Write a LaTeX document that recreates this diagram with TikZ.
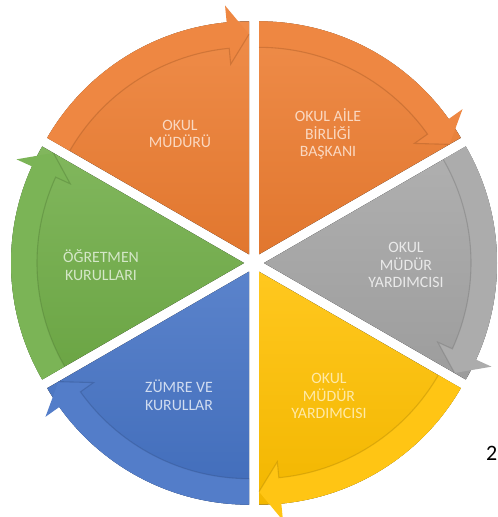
\documentclass[tikz,border=0pt]{standalone}
\usepackage{fontspec}
\setmainfont{Carlito}
\usetikzlibrary{positioning}

\definecolor{turuncu}{HTML}{ED7D31}
\definecolor{gri}{HTML}{A5A5A5}
\definecolor{sari}{HTML}{FFC000}
\definecolor{mavi}{HTML}{4472C4}
\definecolor{yesil}{HTML}{70AD47}

\begin{document}
\begin{tikzpicture}[x=1pt,y=1pt,
    etiket/.style={align=center,font=\fontsize{15.8}{17.8}\selectfont}]
\useasboundingbox (0,0) rectangle (498,517);
\fill[white] (0,0) rectangle (498,517);
% dilimler: baslangic acisi / renk
\foreach \a/\c in {150/turuncu,90/turuncu,30/gri,-30/sari,-90/mavi,-150/yesil}{
  \begin{scope}[shift={(254,254)},shift={(\a-30:10)}]
    \fill[top color=\c!88!white,bottom color=\c!95!black]
      (0,0) -- (\a:233) arc[start angle=\a,end angle=\a-60,radius=233] -- cycle;
    % ok bandi
    \fill[\c!92!white]
      (\a:233) arc[start angle=\a,end angle=\a-54.5,radius=233]
      -- (\a-54.5:250) -- (\a-60:220) -- (\a-54.5:191) -- (\a-54.5:207)
      arc[start angle=\a-54.5,end angle=\a,radius=207] -- cycle;
    \draw[\c!60!black,opacity=.3,line width=1.1pt]
      (\a:207) arc[start angle=\a,end angle=\a-54.5,radius=207]
      -- (\a-54.5:191) -- (\a-60:220);
  \end{scope}
}
\node[etiket,text=turuncu!30!white] (mudur) at (180,383) {OKUL\\MÜDÜRÜ};
\node[etiket,text=turuncu!30!white] (aile) at (328,383) {OKUL AİLE\\BİRLİĞİ\\BAŞKANI};
\node[etiket,text=gri!25!white] (yrd1) at (406,252) {OKUL\\MÜDÜR\\YARDIMCISI};
\node[etiket,text=sari!35!white] (yrd2) at (329,121) {OKUL\\MÜDÜR\\YARDIMCISI};
\node[etiket,text=mavi!25!white] (zumre) at (179,121.5) {ZÜMRE VE\\KURULLAR};
\node[etiket,text=yesil!30!white] (ogretmen) at (101,251.5) {ÖĞRETMEN\\KURULLARI};
\node[anchor=east,font=\fontsize{22}{26}\selectfont,inner sep=0pt] (sayi) at (497.5,64) {2};
\end{tikzpicture}
\end{document}
